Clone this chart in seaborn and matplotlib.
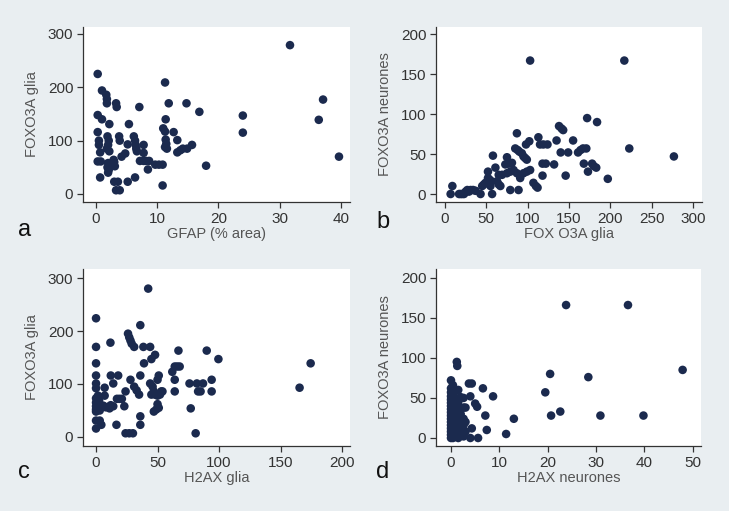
import matplotlib
matplotlib.use("Agg")
import matplotlib.pyplot as plt
import seaborn as sns
import pandas as pd

# ---------------- data ----------------
# Panel a: GFAP (% area) vs FOXO3A glia
gfap_a = [0.3, 1.0, 1.7, 1.8, 1.8, 3.3, 3.4, 7.1, 0.3, 1.0, 2.2, 5.4, 0.3, 0.5, 0.5, 0.7,
          0.3, 0.8, 0.7, 1.9, 2.1, 2.0, 1.8, 2.2, 2.0, 1.9, 2.1, 2.0, 3.0, 3.1, 2.9,
          3.0, 3.6, 3.3, 3.9, 3.8, 3.9, 4.2, 4.8, 5.2, 5.2, 6.2, 6.4, 6.5, 6.6, 6.7,
          6.4, 7.2, 7.8, 8.2, 8.7, 7.8, 7.8, 8.5, 9.7, 10.3, 10.9, 10.9, 11.3, 11.4,
          11.0, 11.3, 11.4, 11.5, 11.3, 11.6, 11.9, 12.7, 13.3, 13.3, 13.8, 14.2,
          14.9, 15.7, 14.8, 16.9, 18.0, 24.0, 24.0, 31.7, 36.4, 37.1, 39.7]
foxo_glia_a = [225, 194, 186, 178, 170, 170, 163, 163, 148, 140, 131, 131, 116, 100, 92, 78,
               61, 61, 31, 108, 100, 92, 85, 80, 58, 50, 45, 40, 60, 52, 64,
               23, 23, 7, 7, 108, 100, 70, 76, 93, 23, 108, 100, 92, 85, 80,
               31, 62, 62, 62, 62, 92, 77, 46, 55, 55, 55, 16, 209, 140,
               123, 117, 102, 94, 88, 85, 170, 116, 101, 78, 82, 85,
               85, 92, 170, 154, 53, 147, 115, 279, 139, 177, 70]

# Panel b: FOXO3A glia vs FOXO3A neurones
foxo_glia_b = [6.8, 8.9, 17, 19, 21, 23, 25, 27, 29, 31, 34, 37, 43, 45, 47, 49, 52, 52, 54,
               56, 55, 57, 58, 61, 63, 65, 67, 65, 69, 75, 73, 77, 81, 75, 79, 83, 79, 89,
               87, 85, 88, 90, 93, 87, 91, 95, 97, 99, 98, 102, 95, 99, 103, 103, 107, 110,
               112, 113, 115, 119, 124, 118, 122, 118, 132, 135, 138, 141, 143, 140, 146,
               149, 155, 161, 164, 167, 171, 168, 172, 173, 178, 180, 184, 183, 197, 217,
               223, 277]
foxo_neur_b = [0, 10, 0, 0, 0, 0, 3, 5, 3, 5, 5, 4, 0, 10, 12, 14, 28, 20, 18,
               16, 10, 0, 48, 33, 16, 12, 10, 24, 24, 46, 37, 38, 39, 26, 28, 30, 5, 5,
               76, 57, 55, 53, 51, 26, 20, 47, 45, 43, 62, 66, 26, 28, 30, 167, 14, 10,
               8, 71, 62, 62, 62, 38, 38, 23, 37, 67, 85, 82, 80, 52, 23,
               52, 67, 52, 55, 57, 57, 38, 95, 28, 38, 35, 90, 33, 19, 167,
               57, 47]

# Panel c: H2AX glia vs FOXO3A glia
h2ax_glia_c = [0, 0, 0, 0, 0, 0, 0, 0, 0, 0, 0, 1.5, 2, 3, 3, 2.5, 0, 3, 0, 4.3, 1.6, 7, 7,
               6, 8, 10, 11, 12, 11.7, 12, 18, 14, 14, 16.6, 17, 19, 21, 23, 24, 24, 27,
               30, 26, 27, 28, 29, 31, 28, 31, 33, 35, 36, 36, 36, 36, 38.5, 39, 42.4, 44,
               45, 48, 44, 46, 47, 48, 50, 52, 53, 45, 47, 49, 51, 51, 54, 50, 50, 62,
               64, 66, 68, 67, 64, 64, 76, 82, 87, 77, 81, 83, 85, 90, 94, 94, 99.5,
               165.5, 174.5]
foxo_glia_c = [224, 170, 139, 116, 101, 92, 73, 65, 58, 52, 48, 62, 55, 50, 60, 68, 31, 31,
               16, 23, 78, 93, 78, 59, 56, 57, 54, 60, 178, 116, 116, 101, 58, 23, 72, 72,
               72, 58, 86, 7, 7, 7, 195, 188, 182, 176, 170, 108, 95, 88, 80, 116, 39, 23,
               211, 170, 139, 280, 170, 147, 155, 101, 95, 86, 80, 78, 80, 86, 80, 48, 52,
               55, 116, 86, 108, 62, 123, 133, 133, 133, 163, 108, 86, 101, 101, 101, 54,
               7, 86, 86, 163, 108, 86, 147, 93, 139]

# Panel d: H2AX neurones vs FOXO3A neurones
h2ax_neur_d = [1.2, 1.3, 0, 3.7, 4.3, 6.6, 8.7, 4.0, 5.0, 5.4, 7.1, 7.4, 4.3, 4.0, 5.6,
               11.4, 13.0, 19.5, 20.5, 20.7, 22.6, 23.8, 28.4, 30.9, 36.6, 39.8, 47.9,
               0, 0, 0, 0, 0, 0, 0, 0, 0, 0, 0, 0, 0, 0, 0, 0,
               0.4, 0.4, 0.4, 0.4, 0.4, 0.4, 0.4, 0.4,
               1.0, 1.0, 1.0, 1.0, 1.0, 1.0, 1.0,
               1.5, 1.5, 1.5, 1.5, 1.5, 1.5, 1.5,
               2.0, 2.0, 2.0, 2.0, 2.0, 2.0,
               2.6, 2.6, 2.6, 2.6, 2.6,
               3.0, 3.0, 3.0]
foxo_neur_d = [95, 90, 72, 68, 68, 62, 52, 52, 43, 39, 28, 10, 12, 0, 0,
               5, 24, 57, 80, 28, 33, 166, 76, 28, 166, 28, 85,
               62, 57, 52, 48, 44, 40, 36, 32, 28, 24, 20, 16, 12, 8, 4, 0,
               66, 55, 38, 30, 22, 14, 6, 0,
               50, 40, 35, 25, 18, 10, 3,
               60, 45, 38, 28, 20, 12, 0,
               51, 36, 30, 24, 16, 8,
               50, 38, 24, 16, 2,
               38, 20, 8]

panels = [
    dict(x=gfap_a, y=foxo_glia_a, xlabel="GFAP (% area)", ylabel="FOXO3A glia",
         xticks=[0, 10, 20, 30, 40], yticks=[0, 100, 200, 300],
         xlim=(-2.1, 41.5), ylim=(-15, 313), letter="a",
         rect=[83, 27, 350, 202], lpos=(18, 236)),
    dict(x=foxo_glia_b, y=foxo_neur_b, xlabel="FOX O3A glia", ylabel="FOXO3A neurones",
         xticks=[0, 50, 100, 150, 200, 250, 300], yticks=[0, 50, 100, 150, 200],
         xlim=(-10.9, 311), ylim=(-10, 209), letter="b",
         rect=[436, 27, 702, 202], lpos=(376, 228)),
    dict(x=h2ax_glia_c, y=foxo_glia_c, xlabel="H2AX glia", ylabel="FOXO3A glia",
         xticks=[0, 50, 100, 150, 200], yticks=[0, 100, 200, 300],
         xlim=(-10.6, 206.5), ylim=(-17, 317), letter="c",
         rect=[83, 269, 350, 446], lpos=(18, 478)),
    dict(x=h2ax_neur_d, y=foxo_neur_d, xlabel="H2AX neurones", ylabel="FOXO3A neurones",
         xticks=[0, 10, 20, 30, 40, 50], yticks=[0, 50, 100, 150, 200],
         xlim=(-3.1, 51.7), ylim=(-10, 211), letter="d",
         rect=[436, 269, 701, 446], lpos=(376, 478)),
]

# ---------------- style ----------------
sns.set_theme(style="ticks")
plt.rcParams["font.family"] = ["Liberation Sans", "DejaVu Sans"]

W, H = 729, 511
BG = "#e9eef1"
MARK = "#1b2a4e"

fig = plt.figure(figsize=(W / 100, H / 100), dpi=100, facecolor=BG)

for p in panels:
    l, t, r, b = p["rect"]
    ax = fig.add_axes([l / W, 1 - b / H, (r - l) / W, (b - t) / H])
    ax.set_facecolor("white")
    df = pd.DataFrame({"x": p["x"], "y": p["y"]})
    sns.scatterplot(data=df, x="x", y="y", ax=ax, color=MARK, s=38,
                    edgecolor="none", linewidth=0)
    ax.set_xlim(*p["xlim"])
    ax.set_ylim(*p["ylim"])
    ax.set_xticks(p["xticks"])
    ax.set_yticks(p["yticks"])
    ax.set_xlabel(p["xlabel"], fontsize=10.5, color="#555555", labelpad=1)
    ax.set_ylabel(p["ylabel"], fontsize=10.5, color="#555555", labelpad=6)
    for side in ["top", "right"]:
        ax.spines[side].set_visible(False)
    for side in ["left", "bottom"]:
        ax.spines[side].set_color("#333333")
        ax.spines[side].set_linewidth(0.9)
    ax.tick_params(axis="both", colors="#333333", labelcolor="#333333",
                   labelsize=11, length=4, width=0.9, direction="out", pad=3)
    fig.text(p["lpos"][0] / W, 1 - p["lpos"][1] / H, p["letter"],
             fontsize=17, color="#111111", ha="left", va="baseline")

fig.savefig("out.png", dpi=100, facecolor=BG)
